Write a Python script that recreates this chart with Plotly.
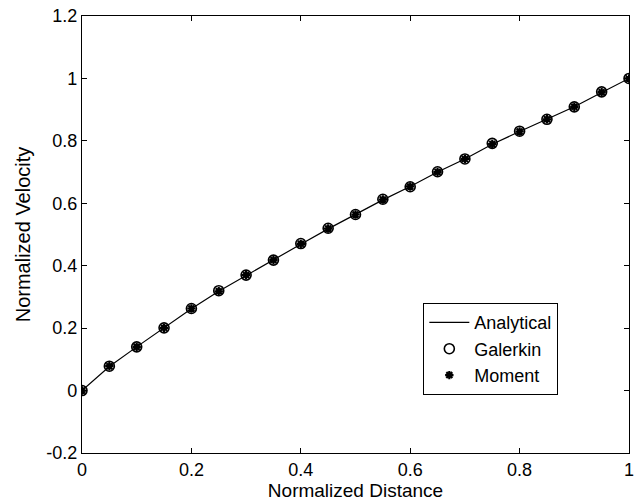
import plotly.graph_objects as go

x_pts = [0.0, 0.05, 0.1, 0.15, 0.2, 0.25, 0.3, 0.35, 0.4, 0.45, 0.5,
         0.55, 0.6, 0.65, 0.7, 0.75, 0.8, 0.85, 0.9, 0.95, 1.0]
analytical = [0.0, 0.077, 0.140, 0.201, 0.262, 0.318, 0.369, 0.418, 0.469, 0.518, 0.564,
              0.611, 0.654, 0.700, 0.742, 0.789, 0.830, 0.869, 0.909, 0.955, 1.0]
galerkin = [0.0, 0.078, 0.140, 0.201, 0.263, 0.320, 0.370, 0.418, 0.471, 0.520, 0.564,
            0.613, 0.653, 0.701, 0.742, 0.792, 0.831, 0.869, 0.909, 0.957, 1.0]
moment = [0.0, 0.078, 0.140, 0.201, 0.263, 0.318, 0.370, 0.418, 0.470, 0.519, 0.564,
          0.612, 0.654, 0.700, 0.742, 0.790, 0.830, 0.869, 0.909, 0.956, 1.0]

x_ticks = [0, 0.2, 0.4, 0.6, 0.8, 1]
y_ticks = [-0.2, 0, 0.2, 0.4, 0.6, 0.8, 1, 1.2]
y_tick_labels = ["-0.2", "0", "0.2", "0.4", "0.6", "0.8", "1", "1.2"]

FONT = "Liberation Sans, Arial, sans-serif"

fig = go.Figure()
fig.add_trace(go.Scatter(x=x_pts, y=analytical, mode="lines", name="Analytical",
                         line=dict(color="black", width=1.2)))
fig.add_trace(go.Scatter(x=x_pts, y=galerkin, mode="markers", name="Galerkin",
                         marker=dict(symbol="circle-open", size=10, color="black",
                                     line=dict(width=1.6, color="black"))))
fig.add_trace(go.Scatter(x=x_pts, y=moment, mode="markers", name="Moment",
                         marker=dict(symbol="asterisk-open", size=7, color="black",
                                     line=dict(width=2.2, color="black"))))

axis_common = dict(showline=True, linecolor="black", linewidth=1.3, mirror="ticks",
                   ticks="inside", ticklen=5, tickwidth=1, tickcolor="black",
                   showgrid=False, zeroline=False,
                   tickfont=dict(family=FONT, size=18, color="black"))

fig.update_xaxes(range=[0, 1], tickvals=x_ticks,
                 title=dict(text="Normalized Distance",
                            font=dict(family=FONT, size=19, color="black"), standoff=4),
                 **axis_common)
fig.update_yaxes(range=[-0.2, 1.2], tickvals=y_ticks, ticktext=y_tick_labels,
                 title=dict(text="Normalized Velocity",
                            font=dict(family=FONT, size=20, color="black"), standoff=10),
                 **axis_common)

fig.update_layout(
    width=637, height=504,
    margin=dict(l=82, r=8, t=16, b=51, autoexpand=False),
    paper_bgcolor="white", plot_bgcolor="white",
    showlegend=True,
    legend=dict(x=0.624, y=0.343, xanchor="left", yanchor="top",
                bgcolor="white", bordercolor="black", borderwidth=1,
                font=dict(family=FONT, size=18, color="black"),
                itemwidth=40, tracegroupgap=0),
)

fig.write_html("out.html")
